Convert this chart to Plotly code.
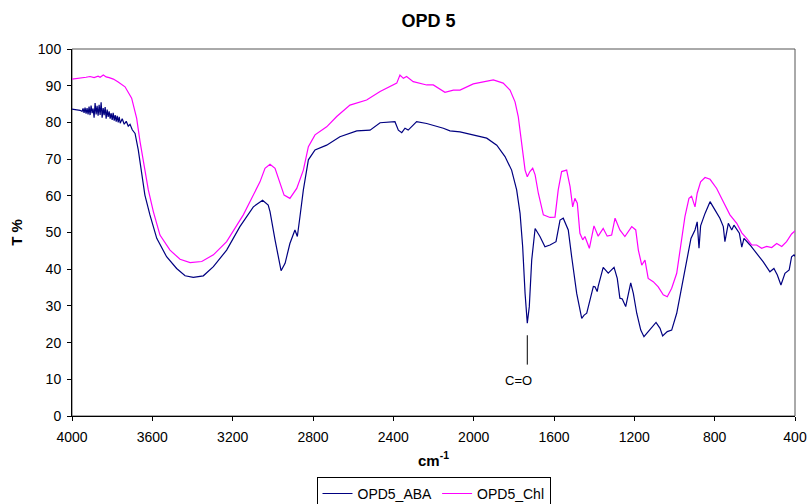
import plotly.graph_objects as go

# ---------------- data ----------------
aba_wn = [4000, 3980, 3960, 3950, 3945, 3940, 3935, 3930, 3925, 3920, 3915, 3910, 3905, 3900,
          3895, 3890, 3885, 3880, 3875, 3870, 3865, 3860, 3855, 3850, 3845, 3840, 3835, 3830,
          3825, 3820, 3815, 3810, 3805, 3800, 3795, 3790, 3785, 3780, 3775, 3770, 3765, 3760,
          3750, 3740, 3730, 3720, 3711, 3700, 3686, 3670, 3653, 3637, 3612, 3578, 3529, 3479,
          3437, 3396, 3346, 3296, 3230, 3164, 3097, 3051, 3023, 3014, 2989, 2973, 2959, 2939,
          2915, 2890, 2878, 2865, 2848, 2823, 2790, 2732, 2666, 2582, 2516, 2466, 2392, 2375,
          2358, 2342, 2326, 2284, 2234, 2151, 2118, 2068, 2018, 1935, 1885, 1844, 1811, 1786,
          1769, 1756, 1744, 1733, 1723, 1711, 1694, 1670, 1645, 1620, 1590, 1570, 1554, 1529,
          1512, 1487, 1462, 1450, 1437, 1412, 1404, 1396, 1385, 1380, 1355, 1330, 1301, 1285,
          1272, 1260, 1243, 1218, 1205, 1188, 1168, 1152, 1122, 1092, 1072, 1059, 1036, 1014,
          989, 964, 939, 918, 898, 887, 878, 870, 848, 823, 798, 774, 757, 749, 732, 715, 704,
          690, 677, 665, 654, 624, 591, 558, 525, 505, 488, 470, 450, 429, 417, 405, 400]
aba_t = [83.6, 83.5, 83.3, 83.0, 83.8, 82.6, 84.0, 82.4, 83.9, 82.2, 84.3, 82.0, 84.6, 82.5,
         83.8, 81.3, 85.3, 82.2, 84.5, 81.8, 84.8, 82.0, 85.5, 81.3, 83.9, 82.0, 84.2, 81.0,
         83.5, 81.5, 83.0, 81.0, 82.5, 80.7, 82.6, 80.5, 82.0, 80.2, 81.8, 80.0, 81.5, 79.8,
         81.0, 79.5, 80.3, 79.0, 79.5, 78.0, 77.0, 72.5, 66.6, 60.2, 54.8, 48.4, 43.4, 40.2,
         38.2, 37.8, 38.2, 40.7, 45.2, 51.6, 57.0, 58.8, 57.5, 55.7, 48.0, 43.5, 39.6, 41.6,
         47.0, 50.7, 48.9, 54.3, 61.6, 69.8, 72.5, 73.8, 76.1, 77.7, 77.9, 79.9, 80.2, 77.9,
         77.2, 78.4, 77.9, 80.2, 79.7, 78.4, 77.7, 77.4, 76.8, 75.7, 73.8, 70.7, 67.0, 61.6,
         55.2, 46.1, 33.4, 25.3, 29.8, 42.5, 51.1, 48.9, 46.1, 46.6, 47.5, 53.4, 53.9, 50.7,
         43.4, 33.4, 26.6, 27.5, 28.0, 33.4, 35.3, 35.2, 33.9, 35.3, 40.5, 38.9, 40.5, 37.5,
         32.1, 31.9, 29.8, 36.3, 33.4, 28.0, 23.4, 21.6, 23.4, 25.5, 23.9, 21.8, 23.0, 23.4,
         28.0, 35.3, 42.5, 48.4, 50.7, 52.9, 45.7, 51.8, 55.2, 58.4, 56.1, 53.9, 51.6, 47.5,
         52.5, 50.7, 52.0, 50.7, 49.8, 46.0, 48.4, 46.6, 44.3, 42.0, 39.3, 40.2, 38.4, 35.7,
         38.9, 39.8, 43.4, 43.9, 43.5]

chl_wn = [4000, 3960, 3930, 3910, 3890, 3870, 3860, 3844, 3830, 3815, 3794, 3770, 3736, 3703,
          3678, 3661, 3642, 3620, 3595, 3562, 3512, 3462, 3412, 3354, 3296, 3230, 3147, 3064,
          3039, 3014, 2989, 2964, 2944, 2915, 2881, 2848, 2823, 2790, 2732, 2682, 2616, 2533,
          2466, 2383, 2367, 2350, 2334, 2301, 2234, 2201, 2143, 2101, 2068, 2002, 1952, 1902,
          1853, 1819, 1794, 1778, 1761, 1744, 1733, 1720, 1706, 1694, 1678, 1653, 1620, 1595,
          1579, 1562, 1537, 1520, 1507, 1496, 1484, 1471, 1457, 1446, 1424, 1401, 1380, 1355,
          1335, 1313, 1296, 1272, 1247, 1213, 1193, 1180, 1163, 1147, 1131, 1106, 1081, 1056,
          1036, 1014, 989, 969, 948, 928, 915, 898, 887, 870, 848, 823, 790, 757, 724, 690,
          665, 641, 616, 591, 566, 541, 516, 491, 466, 442, 417, 405, 400]
chl_t = [91.8, 92.0, 92.3, 92.5, 92.2, 92.6, 92.3, 92.9, 92.4, 92.2, 91.8, 91.0, 89.7, 86.6,
         81.1, 74.7, 68.4, 61.6, 55.7, 49.3, 45.2, 42.7, 41.8, 42.1, 43.9, 47.5, 54.8, 63.8,
         67.5, 68.6, 67.5, 63.4, 60.2, 59.3, 62.0, 67.0, 73.4, 76.6, 78.8, 81.6, 84.7, 86.1,
         88.4, 90.7, 92.9, 92.0, 92.5, 91.1, 90.2, 90.2, 88.2, 88.8, 88.8, 90.5, 91.1, 91.6,
         90.7, 88.8, 85.6, 81.6, 74.3, 67.0, 65.2, 66.6, 67.5, 65.7, 60.7, 54.8, 54.1, 54.2,
         61.6, 66.6, 67.0, 62.5, 57.0, 59.3, 58.0, 49.8, 48.0, 48.9, 45.7, 51.8, 49.0, 51.1,
         49.0, 49.3, 53.9, 50.7, 48.9, 51.6, 50.7, 45.2, 41.1, 42.5, 37.5, 36.6, 35.2, 33.0,
         32.5, 34.8, 38.9, 47.0, 54.3, 59.3, 59.9, 57.0, 60.7, 63.8, 65.0, 64.5, 62.0, 58.4,
         54.8, 52.5, 49.9, 48.4, 46.6, 46.6, 45.7, 46.2, 45.9, 47.0, 46.2, 47.5, 49.6, 50.2,
         50.5]

x_ticks = [4000, 3600, 3200, 2800, 2400, 2000, 1600, 1200, 800, 400]
y_ticks = [0, 10, 20, 30, 40, 50, 60, 70, 80, 90, 100]

co_label = "C=O"
co_wn = 1733
co_line_y = [14, 22]
co_text_pos = (1775, 9.6)

FONT = "Arial, Liberation Sans, sans-serif"

fig = go.Figure()
fig.add_trace(go.Scatter(x=aba_wn, y=aba_t, mode="lines", name="OPD5_ABA",
                         line=dict(color="#000080", width=1.2)))
fig.add_trace(go.Scatter(x=chl_wn, y=chl_t, mode="lines", name="OPD5_Chl",
                         line=dict(color="#FF00FF", width=1.2)))

fig.add_shape(type="line", x0=co_wn, x1=co_wn, y0=co_line_y[0], y1=co_line_y[1],
              xref="x", yref="y", line=dict(color="black", width=1))
fig.add_annotation(x=co_text_pos[0], y=co_text_pos[1], text=co_label, showarrow=False,
                   font=dict(family=FONT, size=13, color="black"))

# plot-area border (top/right) in dark gray
fig.add_shape(type="rect", xref="paper", yref="paper", x0=0, x1=1, y0=0, y1=1,
              line=dict(color="#555555", width=1), layer="below")

fig.update_layout(
    width=807, height=504,
    margin=dict(l=72, r=12, t=49, b=88, autoexpand=False),
    paper_bgcolor="white", plot_bgcolor="white",
    title=dict(text="<b>OPD 5</b>", x=0.531, xanchor="center", y=0.958, yanchor="middle",
               font=dict(family=FONT, size=18, color="black")),
    font=dict(family=FONT, size=14, color="black"),
    showlegend=True,
    legend=dict(orientation="h", x=0.5, xanchor="center", y=-0.166, yanchor="top",
                bordercolor="black", borderwidth=1, bgcolor="white",
                font=dict(family=FONT, size=14, color="black"),
                itemwidth=30, tracegroupgap=0),
    xaxis=dict(range=[4000, 400], tickvals=x_ticks, ticks="outside", ticklen=4,
               tickcolor="black", showline=True, linecolor="black", linewidth=1,
               showgrid=False, zeroline=False, mirror=False, automargin=False,
               ticklabelstandoff=4,
               tickfont=dict(family=FONT, size=14, color="black"),
               title=dict(text="<b>cm<sup>-1</sup></b>", standoff=11,
                          font=dict(family=FONT, size=15, color="black"))),
    yaxis=dict(range=[0, 100], tickvals=y_ticks, ticks="outside", ticklen=4,
               tickcolor="black", showline=True, linecolor="black", linewidth=1,
               showgrid=False, zeroline=False, automargin=False,
               ticklabelstandoff=3,
               tickfont=dict(family=FONT, size=14, color="black"),
               title=dict(text="<b>T %</b>", standoff=11,
                          font=dict(family=FONT, size=15, color="black"))),
)

fig.write_html(
    "out.html",
    config={"displayModeBar": False},
    post_script="document.body.style.margin='0';document.body.style.overflow='hidden';",
)
